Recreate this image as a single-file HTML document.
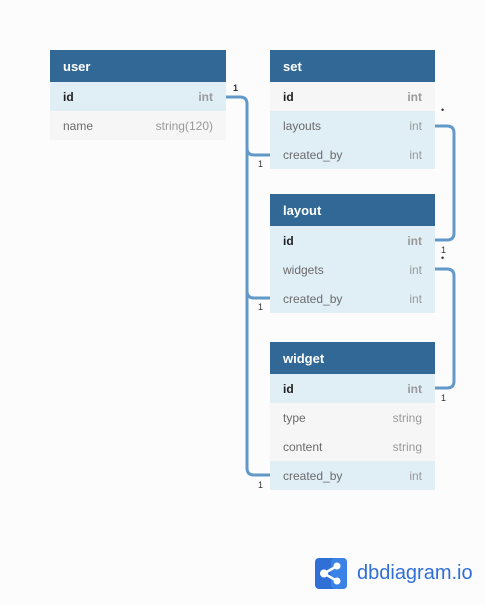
<!DOCTYPE html><html><head><style>
body{margin:0;width:485px;height:605px;background:#fcfcfc;font-family:"Liberation Sans",sans-serif;position:relative;overflow:hidden}
.t{position:absolute;}
.h{height:32px;background:#316896;color:#fff;font-weight:bold;font-size:13px;line-height:34px;padding-left:13px}
.r{height:29px;line-height:31px;font-size:12px;color:#6b6b6b;padding:0 13px;display:flex;justify-content:space-between;background:#f6f6f6;overflow:hidden}
.r span:last-child{color:#9a9a9a}
.r.b{background:#e0eef6}
.r.k span:first-child{color:#222;font-weight:bold}
.r.k span:last-child{font-weight:bold}
.l{position:absolute;font-size:9px;color:#333}
</style></head><body>
<svg width="485" height="605" style="position:absolute;left:0;top:0" fill="none" stroke="#6399c9" stroke-width="3">
<path d="M226 97 H240 Q247 97 247 104 V148 Q247 155 254 155 H270"/>
<path d="M247 150 V291 Q247 298 254 298 H270"/>
<path d="M247 290 V468 Q247 475 254 475 H270"/>
<path d="M435 126 H447 Q454 126 454 133 V233 Q454 240 447 240 H435"/>
<path d="M435 269 H447 Q454 269 454 276 V381 Q454 388 447 388 H435"/>
</svg>
<div class="t" style="left:50px;top:50px;width:176px"><div class="h">user</div>
<div class="r b k"><span>id</span><span>int</span></div><div class="r"><span>name</span><span>string(120)</span></div></div>
<div class="t" style="left:270px;top:50px;width:165px"><div class="h">set</div>
<div class="r k"><span>id</span><span>int</span></div><div class="r b"><span>layouts</span><span>int</span></div><div class="r b"><span>created_by</span><span>int</span></div></div>
<div class="t" style="left:270px;top:194px;width:165px"><div class="h">layout</div>
<div class="r b k"><span>id</span><span>int</span></div><div class="r b"><span>widgets</span><span>int</span></div><div class="r b"><span>created_by</span><span>int</span></div></div>
<div class="t" style="left:270px;top:342px;width:165px"><div class="h">widget</div>
<div class="r b k"><span>id</span><span>int</span></div><div class="r"><span>type</span><span>string</span></div><div class="r"><span>content</span><span>string</span></div><div class="r b"><span>created_by</span><span>int</span></div></div>
<div class="l" style="left:233px;top:83px;font-weight:bold">1</div>
<div class="l" style="left:258px;top:159px">1</div>
<div class="l" style="left:258px;top:302px">1</div>
<div class="l" style="left:258px;top:480px">1</div>
<div class="l" style="left:441px;top:105px">•</div>
<div class="l" style="left:441px;top:245px">1</div>
<div class="l" style="left:441px;top:253px">•</div>
<div class="l" style="left:441px;top:393px">1</div>
<svg style="position:absolute;left:315px;top:558px" width="32" height="31" viewBox="0 0 32 31">
<rect width="32" height="31" rx="4" fill="#2f6fd6"/><rect x="16" width="16" height="31" rx="4" fill="#3b82e6"/>
<g stroke="#fff" stroke-width="2.5"><line x1="9" y1="15.5" x2="22" y2="8"/><line x1="9" y1="15.5" x2="22" y2="23"/></g>
<circle cx="9" cy="15.5" r="4" fill="#fff"/><circle cx="22" cy="8" r="3.5" fill="#fff"/><circle cx="22" cy="23" r="3.5" fill="#fff"/></svg>
<div style="position:absolute;left:357px;top:559px;font-size:20px;color:#2f6fd6;line-height:28px">dbdiagram.io</div>
</body></html>
